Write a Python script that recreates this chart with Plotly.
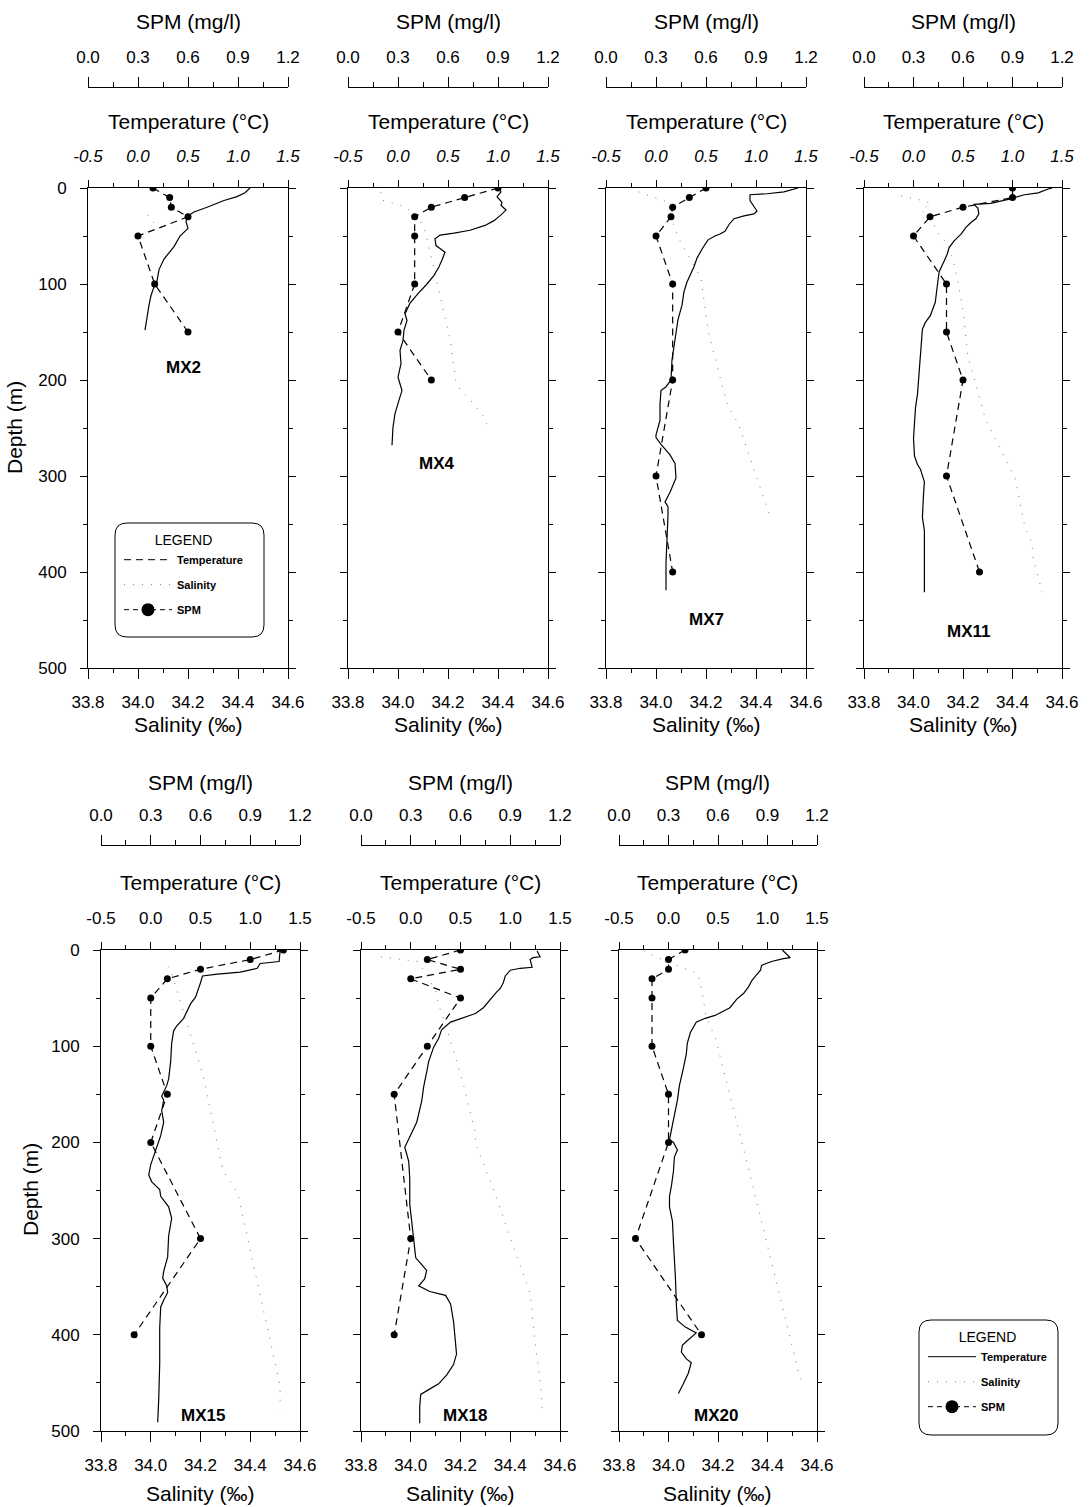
import plotly.graph_objects as go

W, H = 1091, 1507
FONT = "Arial, 'Liberation Sans', Helvetica, sans-serif"

# ---------------- data ----------------
stations = ["MX2", "MX4", "MX7", "MX11", "MX15", "MX18", "MX20"]

# Temperature profiles (depth m, deg C)
mx2_t_depth = [0, 5, 9, 13, 20, 25, 29, 35, 42, 50, 61, 74, 85, 97, 103, 112, 122, 134, 148]
mx2_t = [1.12, 1.07, 0.99, 0.86, 0.69, 0.56, 0.50, 0.48, 0.50, 0.42, 0.36, 0.26, 0.21, 0.19, 0.16, 0.13, 0.11, 0.09, 0.07]

mx4_t_depth = [0, 4, 9, 15, 18, 23, 28, 34, 39, 44, 47, 49, 53, 60, 63, 67, 75, 82, 91, 100, 110, 120, 131, 138, 148,
               159, 169, 183, 197, 211, 221, 235, 249, 268]
mx4_t = [1.01, 1.03, 0.99, 1.04, 1.03, 1.08, 1.03, 0.96, 0.87, 0.72, 0.56, 0.42, 0.37, 0.38, 0.42, 0.47, 0.44, 0.41,
         0.36, 0.29, 0.20, 0.12, 0.07, 0.09, 0.06, 0.05, 0.02, 0.03, 0.00, 0.04, 0.01, -0.03, -0.05, -0.06]

mx7_t_depth = [0, 2, 4, 6, 7, 13, 20, 24, 27, 29, 32, 38, 45, 48, 50, 54, 62, 68, 73, 82, 91, 98, 108, 122, 137, 151,
               165, 179, 200, 207, 211, 225, 242, 257, 260, 267, 278, 287, 302, 317, 327, 332, 341, 366, 391, 419]
mx7_t = [1.42, 1.35, 1.28, 1.11, 0.94, 0.94, 0.99, 1.01, 0.98, 0.88, 0.78, 0.73, 0.69, 0.64, 0.59, 0.52, 0.47, 0.44,
         0.41, 0.38, 0.34, 0.31, 0.28, 0.26, 0.22, 0.20, 0.18, 0.16, 0.15, 0.10, 0.05, 0.04, 0.04, 0.00, 0.00, 0.05,
         0.14, 0.19, 0.20, 0.14, 0.09, 0.12, 0.12, 0.11, 0.10, 0.10]

mx11_t_depth = [0, 1, 5, 7, 11, 16, 17, 21, 27, 32, 36, 41, 48, 55, 62, 69, 76, 87, 94, 105, 119, 133, 140, 147, 162,
                179, 201, 215, 229, 243, 261, 279, 288, 293, 306, 321, 343, 357, 385, 421]
mx11_t = [1.40, 1.36, 1.26, 1.12, 0.99, 0.78, 0.61, 0.65, 0.66, 0.63, 0.58, 0.53, 0.48, 0.41, 0.36, 0.34, 0.31, 0.26,
          0.25, 0.24, 0.22, 0.17, 0.12, 0.09, 0.08, 0.07, 0.05, 0.04, 0.02, 0.01, 0.00, 0.01, 0.04, 0.07, 0.11, 0.10,
          0.09, 0.11, 0.11, 0.11]

mx15_t_depth = [0, 1, 12, 14, 19, 23, 25, 27, 34, 41, 49, 56, 71, 79, 84, 97, 116, 134, 141, 152, 156, 167, 179, 193,
                208, 223, 234, 241, 249, 256, 267, 279, 297, 319, 334, 341, 349, 356, 364, 371, 393, 430, 467, 491]
mx15_t = [1.27, 1.30, 1.29, 1.10, 1.07, 0.90, 0.67, 0.52, 0.50, 0.48, 0.45, 0.40, 0.33, 0.26, 0.23, 0.21, 0.20, 0.18,
          0.16, 0.11, 0.13, 0.11, 0.13, 0.10, 0.05, 0.00, -0.02, 0.01, 0.09, 0.10, 0.18, 0.21, 0.18, 0.17, 0.13, 0.12,
          0.16, 0.17, 0.13, 0.10, 0.09, 0.09, 0.08, 0.07]

mx18_t_depth = [1, 7, 8, 10, 18, 19, 21, 27, 34, 40, 44, 51, 60, 66, 70, 75, 83, 92, 101, 116, 127, 142, 157, 179, 190,
                196, 205, 220, 238, 264, 283, 305, 320, 327, 333, 342, 349, 355, 359, 368, 386, 420, 431, 442, 451, 457,
                462, 475, 492]
mx18_t = [1.27, 1.30, 1.23, 1.20, 1.22, 1.10, 1.00, 0.95, 0.93, 0.90, 0.86, 0.80, 0.73, 0.65, 0.53, 0.40, 0.31, 0.28,
          0.23, 0.18, 0.16, 0.13, 0.11, 0.06, 0.01, -0.02, -0.06, -0.02, -0.01, -0.01, 0.01, 0.04, 0.05, 0.11, 0.16,
          0.14, 0.08, 0.19, 0.35, 0.40, 0.43, 0.46, 0.43, 0.36, 0.28, 0.18, 0.10, 0.09, 0.09]

mx20_t_depth = [0, 5, 8, 9, 12, 16, 21, 27, 32, 38, 45, 51, 60, 68, 71, 75, 80, 86, 97, 108, 123, 141, 156, 171, 186,
                197, 200, 208, 215, 230, 245, 256, 267, 282, 304, 318, 341, 370, 385, 392, 398, 407, 411, 418, 425, 429,
                440, 451, 461]
mx20_t = [1.15, 1.20, 1.23, 1.16, 1.04, 0.94, 0.93, 0.88, 0.84, 0.81, 0.76, 0.69, 0.62, 0.47, 0.37, 0.28, 0.25, 0.22,
          0.19, 0.18, 0.15, 0.11, 0.09, 0.06, 0.03, 0.01, 0.05, 0.09, 0.06, 0.05, 0.03, 0.01, 0.01, 0.04, 0.05, 0.06,
          0.07, 0.08, 0.09, 0.17, 0.28, 0.18, 0.14, 0.13, 0.18, 0.23, 0.20, 0.15, 0.10]

# Salinity profiles (depth m, per mil) - faint dotted traces
mx2_s_depth = [28, 33, 40]
mx2_s = [34.04, 34.05, 34.08]
mx4_s_depth = [4, 13, 18, 25, 35, 46, 148, 159, 180, 200, 211, 221, 237, 249]
mx4_s = [33.93, 33.94, 34.01, 34.06, 34.09, 34.11, 34.20, 34.21, 34.22, 34.23, 34.25, 34.29, 34.34, 34.36]
mx7_s_depth = [4, 6, 15, 20, 38, 52, 94, 151, 221, 228, 246, 345]
mx7_s = [33.93, 33.95, 34.05, 34.06, 34.07, 34.09, 34.18, 34.21, 34.28, 34.29, 34.33, 34.46]
mx11_s_depth = [8, 12, 16, 23, 37, 52, 57, 85, 128, 176, 194, 220, 240, 302, 353, 371, 382, 421]
mx11_s = [33.95, 34.02, 34.07, 34.03, 34.08, 34.11, 34.14, 34.17, 34.20, 34.22, 34.24, 34.27, 34.29, 34.41, 34.45,
          34.48, 34.48, 34.52]
mx15_s_depth = [17, 21, 130, 229, 253, 453, 477]
mx15_s = [34.07, 34.08, 34.21, 34.29, 34.35, 34.52, 34.52]
mx18_s_depth = [7, 12, 42, 55, 86, 138, 159, 190, 201, 247, 299, 357, 409, 431, 447, 483]
mx18_s = [33.88, 34.03, 34.10, 34.11, 34.15, 34.21, 34.23, 34.26, 34.26, 34.33, 34.40, 34.48, 34.50, 34.51, 34.52,
          34.53]
mx20_s_depth = [1, 5, 25, 49, 68, 92, 234, 444, 448]
mx20_s = [33.90, 33.93, 34.12, 34.14, 34.15, 34.19, 34.33, 34.53, 34.54]

# SPM samples (depth m, mg/l)
mx2_p_depth = [0, 10, 20, 30, 50, 100, 150]
mx2_p = [0.39, 0.49, 0.50, 0.60, 0.30, 0.40, 0.60]
mx4_p_depth = [0, 10, 20, 30, 50, 100, 150, 200]
mx4_p = [0.90, 0.70, 0.50, 0.40, 0.40, 0.40, 0.30, 0.50]
mx7_p_depth = [0, 10, 20, 30, 50, 100, 200, 300, 400]
mx7_p = [0.60, 0.50, 0.40, 0.39, 0.30, 0.40, 0.40, 0.30, 0.40]
mx11_p_depth = [0, 10, 20, 30, 50, 100, 150, 200, 300, 400]
mx11_p = [0.90, 0.90, 0.60, 0.40, 0.30, 0.50, 0.50, 0.60, 0.50, 0.70]
mx15_p_depth = [0, 10, 20, 30, 50, 100, 150, 200, 300, 400]
mx15_p = [1.10, 0.90, 0.60, 0.40, 0.30, 0.30, 0.40, 0.30, 0.60, 0.20]
mx18_p_depth = [0, 10, 20, 30, 50, 100, 150, 300, 400]
mx18_p = [0.60, 0.40, 0.60, 0.30, 0.60, 0.40, 0.20, 0.30, 0.20]
mx20_p_depth = [0, 10, 20, 30, 50, 100, 150, 200, 300, 400]
mx20_p = [0.40, 0.30, 0.30, 0.20, 0.20, 0.20, 0.30, 0.30, 0.10, 0.50]

# Tick labels
depth_ticks = [0, 100, 200, 300, 400, 500]
depth_labels = ["0", "100", "200", "300", "400", "500"]
sal_ticks = [33.8, 34.0, 34.2, 34.4, 34.6]
sal_labels = ["33.8", "34.0", "34.2", "34.4", "34.6"]
temp_ticks = [-0.5, 0.0, 0.5, 1.0, 1.5]
temp_labels = ["-0.5", "0.0", "0.5", "1.0", "1.5"]
spm_ticks = [0.0, 0.3, 0.6, 0.9, 1.2]
spm_labels = ["0.0", "0.3", "0.6", "0.9", "1.2"]

temps = [(mx2_t_depth, mx2_t), (mx4_t_depth, mx4_t), (mx7_t_depth, mx7_t), (mx11_t_depth, mx11_t),
         (mx15_t_depth, mx15_t), (mx18_t_depth, mx18_t), (mx20_t_depth, mx20_t)]
sals = [(mx2_s_depth, mx2_s), (mx4_s_depth, mx4_s), (mx7_s_depth, mx7_s), (mx11_s_depth, mx11_s),
        (mx15_s_depth, mx15_s), (mx18_s_depth, mx18_s), (mx20_s_depth, mx20_s)]
spms = [(mx2_p_depth, mx2_p), (mx4_p_depth, mx4_p), (mx7_p_depth, mx7_p), (mx11_p_depth, mx11_p),
        (mx15_p_depth, mx15_p), (mx18_p_depth, mx18_p), (mx20_p_depth, mx20_p)]

# ---------------- layout geometry (pixels) ----------------
def px_x(p):
    return p / W


def px_y(p):
    return 1 - p / H


panels = [(88, 288, 0), (348, 548, 0), (606, 806, 0), (864, 1062, 0),
          (101, 300, 1), (361, 560, 1), (619, 817, 1)]
rows = [dict(top=188, bot=668, spm=87, spm_title=21, t_title=121, s_title=724, dtitle=(15, 428)),
        dict(top=950, bot=1431, spm=845, spm_title=782, t_title=882, s_title=1493, dtitle=(30, 1190))]
label_pos = [(184, 367), (437, 463), (706, 620), (968, 631), (203, 1415), (465, 1415), (716, 1415)]

fig = go.Figure()
layout = dict(template="none", width=W, height=H, autosize=False,
              margin=dict(l=0, r=0, t=0, b=0, pad=0),
              paper_bgcolor="white", plot_bgcolor="rgba(0,0,0,0)",
              font=dict(family=FONT, color="black", size=17), showlegend=True)
annotations = []
tickfont = dict(family=FONT, size=17, color="black")


def aname(prefix, k):
    return prefix + ("" if k == 1 else str(k))


for i, (x0, x1, r) in enumerate(panels):
    row = rows[r]
    p = i + 1
    ks, kt, kp = 3 * i + 1, 3 * i + 2, 3 * i + 3
    dom = [px_x(x0), px_x(x1)]
    ydom = [px_y(row["bot"]), px_y(row["top"])]
    yname = aname("y", p)

    layout[aname("yaxis", p)] = dict(
        domain=ydom, range=[500, 0], anchor=aname("x", ks), automargin=False,
        tickmode="array", tickvals=depth_ticks, ticktext=depth_labels,
        showticklabels=(i in (0, 4)), ticks="outside", ticklen=7, tickwidth=1, tickcolor="black",
        minor=dict(tickmode="linear", tick0=0, dtick=50, ticks="outside", ticklen=4, tickcolor="black"),
        showline=True, linecolor="black", linewidth=1, mirror="ticks",
        showgrid=False, zeroline=False, tickfont=tickfont, ticklabelstandoff=10, fixedrange=True)

    layout[aname("xaxis", ks)] = dict(
        domain=dom, range=[33.8, 34.6], anchor=yname, side="bottom", automargin=False,
        tickmode="array", tickvals=sal_ticks, ticktext=sal_labels,
        ticks="outside", ticklen=10, tickwidth=1, tickcolor="black",
        minor=dict(tickmode="linear", tick0=33.8, dtick=0.1, ticks="outside", ticklen=4, tickcolor="black"),
        showline=True, linecolor="black", linewidth=1, showgrid=False, zeroline=False,
        tickfont=tickfont, ticklabelstandoff=9, fixedrange=True)

    tf = dict(tickfont)
    if r == 0:
        tf["style"] = "italic"
    layout[aname("xaxis", kt)] = dict(
        range=[-0.5, 1.5], anchor=yname, overlaying=aname("x", ks), side="top", automargin=False,
        tickmode="array", tickvals=temp_ticks, ticktext=temp_labels,
        ticks="outside", ticklen=7, tickwidth=1, tickcolor="black",
        minor=dict(tickmode="linear", tick0=-0.5, dtick=0.25, ticks="outside", ticklen=4, tickcolor="black"),
        showline=True, linecolor="black", linewidth=1, showgrid=False, zeroline=False,
        tickfont=tf, ticklabelstandoff=11, fixedrange=True)

    layout[aname("xaxis", kp)] = dict(
        range=[0, 1.2], anchor="free", position=px_y(row["spm"]), overlaying=aname("x", ks), side="top",
        automargin=False,
        tickmode="array", tickvals=spm_ticks, ticktext=spm_labels,
        ticks="outside", ticklen=10, tickwidth=1, tickcolor="black",
        minor=dict(tickmode="linear", tick0=0, dtick=0.15, ticks="outside", ticklen=5, tickcolor="black"),
        showline=True, linecolor="black", linewidth=1, showgrid=False, zeroline=False,
        tickfont=tickfont, ticklabelstandoff=7, fixedrange=True)

    td, tv = temps[i]
    sd, sv = sals[i]
    pd_, pv = spms[i]
    fig.add_trace(go.Scatter(x=sv, y=sd, xaxis=aname("x", ks), yaxis=yname, mode="lines",
                             line=dict(color="#777777", width=1, dash="1px,8px"),
                             showlegend=False, hoverinfo="skip"))
    fig.add_trace(go.Scatter(x=tv, y=td, xaxis=aname("x", kt), yaxis=yname, mode="lines",
                             line=dict(color="black", width=1.2),
                             showlegend=False, hoverinfo="skip"))
    fig.add_trace(go.Scatter(x=pv, y=pd_, xaxis=aname("x", kp), yaxis=yname, mode="lines+markers",
                             line=dict(color="black", width=1.2, dash="7px,5px"),
                             marker=dict(color="black", size=7),
                             showlegend=False, hoverinfo="skip"))

    cx = px_x((x0 + x1) / 2)
    for text, yy in (("SPM (mg/l)", row["spm_title"]), ("Temperature (°C)", row["t_title"]),
                     ("Salinity (‰)", row["s_title"])):
        annotations.append(dict(text=text, x=cx, y=px_y(yy), xref="paper", yref="paper",
                                xanchor="center", yanchor="middle", showarrow=False,
                                font=dict(family=FONT, size=21, color="black")))
    lx, ly = label_pos[i]
    annotations.append(dict(text="<b>%s</b>" % stations[i], x=px_x(lx), y=px_y(ly), xref="paper", yref="paper",
                            xanchor="center", yanchor="middle", showarrow=False,
                            font=dict(family=FONT, size=17, color="black")))

for row in rows:
    dx, dy = row["dtitle"]
    annotations.append(dict(text="Depth (m)", x=px_x(dx), y=px_y(dy), xref="paper", yref="paper",
                            xanchor="center", yanchor="middle", textangle=-90, showarrow=False,
                            font=dict(family=FONT, size=21, color="black")))

# ---------------- legends ----------------
legend_boxes = [(115, 523, 264, 637), (919, 1320, 1058, 1435)]
shapes = []
for (bx0, by0, bx1, by1) in legend_boxes:
    rx, ry = 12 / W, 12 / H
    X0, X1 = px_x(bx0), px_x(bx1)
    Y0, Y1 = px_y(by1), px_y(by0)
    path = (f"M {X0+rx},{Y1} L {X1-rx},{Y1} Q {X1},{Y1} {X1},{Y1-ry} L {X1},{Y0+ry} Q {X1},{Y0} {X1-rx},{Y0} "
            f"L {X0+rx},{Y0} Q {X0},{Y0} {X0},{Y0+ry} L {X0},{Y1-ry} Q {X0},{Y1} {X0+rx},{Y1} Z")
    shapes.append(dict(type="path", path=path, xref="paper", yref="paper",
                       line=dict(color="black", width=1), fillcolor="rgba(0,0,0,0)", layer="above"))

leg_font = dict(family=FONT, size=11, color="black", weight="bold")
for li, (lname, temp_dash) in enumerate((("legend", "7px,5px"), ("legend2", "solid"))):
    fig.add_trace(go.Scatter(x=[None], y=[None], mode="lines", name="Temperature", legend=lname,
                             legendgroup=f"t{li}", line=dict(color="black", width=1, dash=temp_dash)))
    fig.add_trace(go.Scatter(x=[None], y=[None], mode="lines", name="Salinity", legend=lname,
                             legendgroup=f"s{li}", line=dict(color="#777777", width=1, dash="1px,8px")))
    fig.add_trace(go.Scatter(x=[None], y=[None], mode="lines+markers", name="SPM", legend=lname,
                             legendgroup=f"p{li}", line=dict(color="black", width=1, dash="5px,4px"),
                             marker=dict(color="black", size=13)))

for lname, (bx0, by0, bx1, by1) in zip(("legend", "legend2"), legend_boxes):
    layout[lname] = dict(x=px_x(bx0 + 4), y=px_y(by0 + 4), xanchor="left", yanchor="top",
                         bgcolor="rgba(0,0,0,0)", borderwidth=0, font=leg_font,
                         title=dict(text="LEGEND", side="top center",
                                    font=dict(family=FONT, size=14, color="black", weight="normal")),
                         tracegroupgap=6, itemwidth=48, itemclick=False, itemdoubleclick=False)

layout["annotations"] = annotations
layout["shapes"] = shapes
fig.update_layout(**layout)
fig.write_html("out.html", config={"staticPlot": True},
               post_script="document.body.style.margin='0px';document.body.style.padding='0px';"
                           "document.body.style.overflow='hidden';")
